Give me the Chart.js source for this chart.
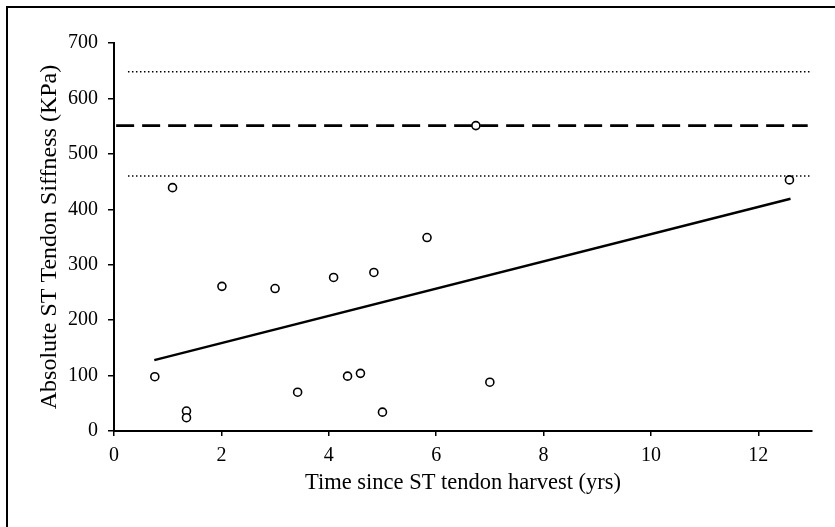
<!DOCTYPE html>
<html>
<head>
<meta charset="utf-8">
<script src="https://cdn.jsdelivr.net/npm/chart.js@4.4.1/dist/chart.umd.min.js"></script>
<style>
  html, body { margin: 0; padding: 0; background: #fff; }
  #wrap { position: relative; width: 835px; height: 527px; }
  #frame { position: absolute; left: 6px; top: 6px; right: 0; bottom: 0;
           border-top: 2px solid #000; border-left: 2px solid #000; pointer-events: none; }
</style>
</head>
<body>
<div id="wrap">
  <canvas id="stiffChart" width="835" height="527"></canvas>
  <div id="frame"></div>
</div>
<script>
// measured points
const timeYrs = [0.76, 1.09, 1.35, 1.35, 2.01, 3.0, 3.42, 4.09, 4.35, 4.59, 4.84, 5.0, 5.83, 6.74, 7.0, 12.58];
const stiffness = [98, 439, 36, 24, 261, 257, 70, 277, 99, 104, 286, 34, 349, 551, 88, 453];

// regression line ends
const fitX = [0.75, 12.6];
const fitY = [128, 419];

// reference lines (mean and +/- SD)
const meanX = [0.04, 12.92];
const meanStiffness = 551;
const sdX = [0.26, 13];
const upperStiffness = 648;
const lowerStiffness = 460;

const xTicks = [0, 2, 4, 6, 8, 10, 12];
const yTicks = [0, 100, 200, 300, 400, 500, 600, 700];

const toPoints = (xs, ys) => xs.map((x, i) => ({ x: x, y: ys[i] }));
const flat = (xs, v) => xs.map(x => ({ x: x, y: v }));

const serif = 'Liberation Serif, Times New Roman, serif';

const canvas = document.getElementById('stiffChart');
const ctx = canvas.getContext('2d');

new Chart(ctx, {
  type: 'scatter',
  data: {
    datasets: [{
      label: 'Stiffness',
      data: toPoints(timeYrs, stiffness),
      pointRadius: 4,
      pointBorderWidth: 1.6,
      pointBackgroundColor: '#fff',
      pointBorderColor: '#000'
    }, {
      label: 'Fit',
      data: toPoints(fitX, fitY),
      showLine: true,
      borderColor: '#000',
      borderWidth: 2.4,
      pointRadius: 0
    }, {
      label: 'Mean',
      data: flat(meanX, meanStiffness),
      showLine: true,
      borderColor: '#000',
      borderWidth: 2.8,
      borderDash: [18, 8],
      pointRadius: 0
    }, {
      label: 'Upper',
      data: flat(sdX, upperStiffness),
      showLine: true,
      borderColor: '#000',
      borderWidth: 1.6,
      borderDash: [1.5, 2.5],
      pointRadius: 0
    }, {
      label: 'Lower',
      data: flat(sdX, lowerStiffness),
      showLine: true,
      borderColor: '#000',
      borderWidth: 1.6,
      borderDash: [1.5, 2.5],
      pointRadius: 0
    }]
  },
  options: {
    responsive: false,
    animation: false,
    layout: {
      padding: { top: 43, right: 23, left: 0, bottom: 0 }
    },
    plugins: {
      legend: { display: false },
      tooltip: { enabled: false }
    },
    scales: {
      x: {
        type: 'linear',
        min: 0,
        max: 13,
        afterFit: (scale) => { scale.height = 96; },
        afterBuildTicks: (scale) => { scale.ticks = xTicks.map(v => ({ value: v })); },
        ticks: {
          color: '#000',
          font: { family: serif, size: 20 },
          padding: 8,
          maxRotation: 0
        },
        grid: {
          drawOnChartArea: false,
          drawTicks: true,
          tickLength: 5,
          color: '#000',
          lineWidth: 1.5
        },
        border: { color: '#000', width: 2 },
        title: {
          display: true,
          text: 'Time since ST tendon harvest (yrs)',
          color: '#000',
          font: { family: serif, size: 22.5 },
          padding: { top: 0, bottom: 30 }
        }
      },
      y: {
        type: 'linear',
        min: 0,
        max: 700,
        afterFit: (scale) => { scale.width = 114; },
        afterBuildTicks: (scale) => { scale.ticks = yTicks.map(v => ({ value: v })); },
        ticks: {
          color: '#000',
          font: { family: serif, size: 20 },
          padding: 10
        },
        grid: {
          drawOnChartArea: false,
          drawTicks: true,
          tickLength: 6,
          color: '#000',
          lineWidth: 1.5
        },
        border: { color: '#000', width: 2 },
        title: {
          display: true,
          text: 'Absolute ST Tendon Siffness (KPa)',
          color: '#000',
          font: { family: serif, size: 24 },
          padding: { top: 35, bottom: 0 }
        }
      }
    }
  }
});
</script>
</body>
</html>
